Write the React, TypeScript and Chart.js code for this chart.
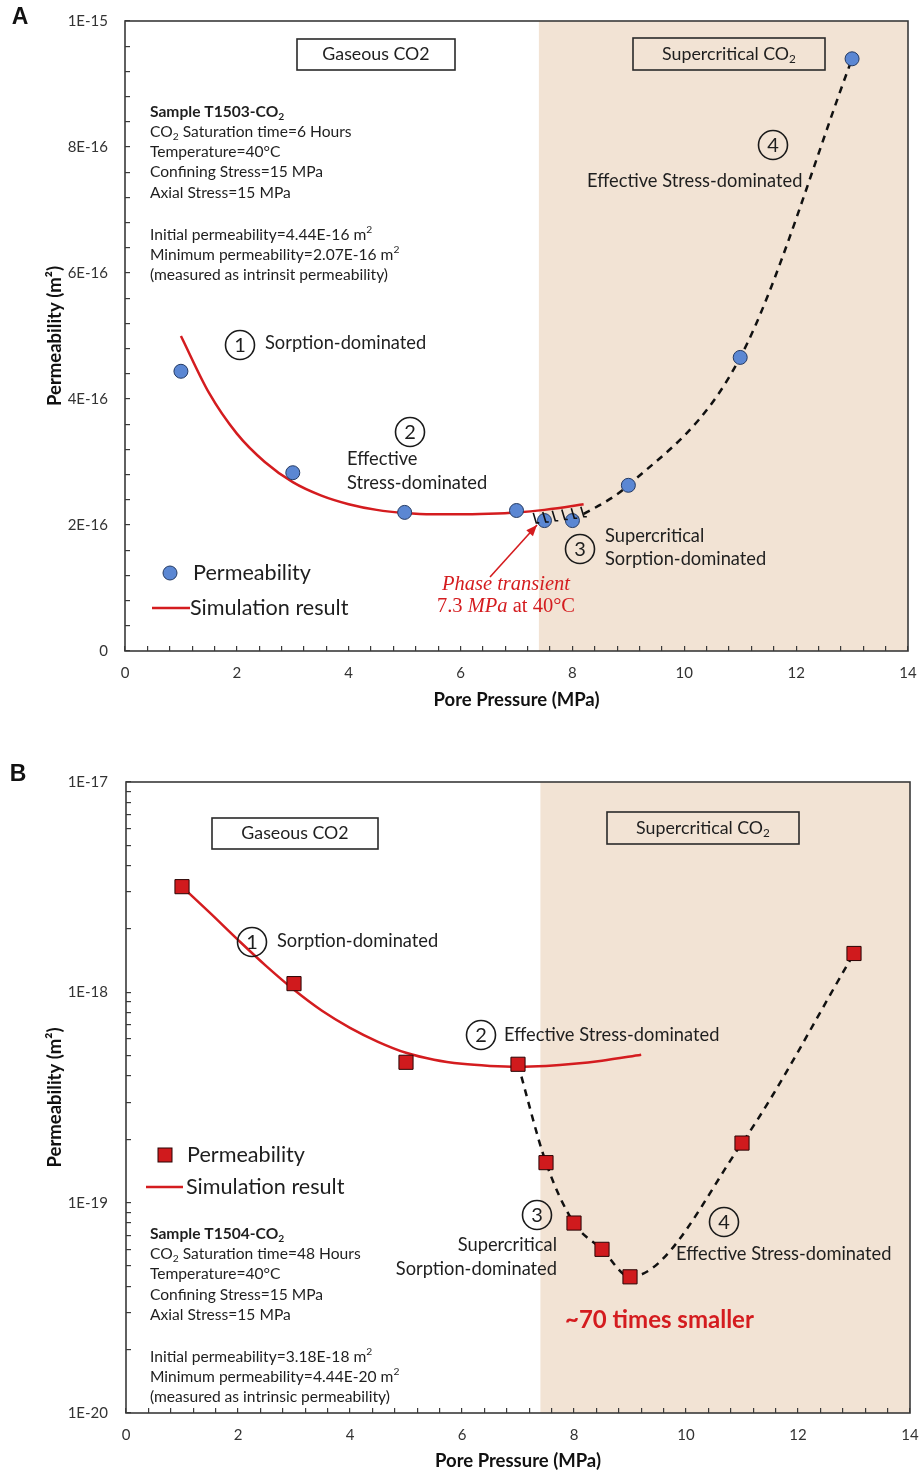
import React, { useEffect, useRef } from 'react';
import { Chart, registerables } from 'chart.js';

Chart.register(...registerables);

// ---------------- Panel A data (Sample T1503-CO2) ----------------
const pressureA = [1, 3, 5, 7, 7.5, 8, 9, 11, 13];
const permA = [4.44e-16, 2.83e-16, 2.2e-16, 2.23e-16, 2.07e-16, 2.07e-16, 2.63e-16, 4.66e-16, 9.4e-16];
const simPressureA = [1, 1.5, 2, 2.5, 3, 3.5, 4, 4.5, 5, 5.5, 6, 6.5, 7, 7.5, 8, 8.2];
const simPermA = [5.0e-16, 4.1e-16, 3.45e-16, 3.0e-16, 2.68e-16, 2.47e-16, 2.33e-16, 2.24e-16, 2.19e-16, 2.17e-16, 2.17e-16, 2.18e-16, 2.2e-16, 2.24e-16, 2.3e-16, 2.33e-16];
const trendPressureA = [8, 9, 11, 13];
const trendPermA = [2.07e-16, 2.63e-16, 4.66e-16, 9.4e-16];
const yTickLabelsA = ['0', '2E-16', '4E-16', '6E-16', '8E-16', '1E-15'];

// ---------------- Panel B data (Sample T1504-CO2) ----------------
const pressureB = [1, 3, 5, 7, 7.5, 8, 8.5, 9, 11, 13];
const permB = [3.18e-18, 1.1e-18, 4.65e-19, 4.55e-19, 1.55e-19, 8.0e-20, 6.0e-20, 4.44e-20, 1.92e-19, 1.53e-18];
const simPressureB = [1, 1.5, 2, 2.5, 3, 3.5, 4, 4.5, 5, 5.5, 6, 6.5, 7, 7.5, 8, 8.5, 9.2];
const simPermB = [3.18e-18, 2.385e-18, 1.776e-18, 1.336e-18, 1.028e-18, 8.17e-19, 6.78e-19, 5.82e-19, 5.16e-19, 4.78e-19, 4.57e-19, 4.47e-19, 4.43e-19, 4.47e-19, 4.57e-19, 4.73e-19, 5.05e-19];
const trendPressureB = [7, 7.5, 8, 8.5, 9, 11, 13];
const trendPermB = [4.55e-19, 1.55e-19, 8.0e-20, 6.0e-20, 4.44e-20, 1.92e-19, 1.53e-18];
const yTickLabelsB = ['1E-20', '1E-19', '1E-18', '1E-17'];

// ---------------- shared ----------------
const xTickLabels = ['0', '2', '4', '6', '8', '10', '12', '14'];
const supercriticalFrom = 7.4; // MPa, phase boundary
const hatchPressuresA = [7.3, 7.47, 7.64, 7.81, 7.98, 8.15];

const FONT = "Lato, 'Open Sans', 'DejaVu Sans', sans-serif";
const SERIF = "'Liberation Serif', 'DejaVu Serif', serif";
const AXIS = '#3a3a3a';
const TXT = '#1e1e1e';
const SHADE = '#f2e3d4';
const RED = '#d41c1f';
const BLUE = '#5b87d3';
const SQUARE = '#d01a1d';

const INFO = 15.6;
const ANN = 18.3;
const LEG = 21.6;

type Seg = { t: string; mode: 'n' | 'sub' | 'sup'; it?: boolean };
function parseRich(s: string): Seg[] {
  const out: Seg[] = [];
  const re = /([_^])\{([^}]*)\}|\*([^*]*)\*/g;
  let last = 0;
  let m: RegExpExecArray | null;
  while ((m = re.exec(s))) {
    if (m.index > last) out.push({ t: s.slice(last, m.index), mode: 'n' });
    if (m[1]) out.push({ t: m[2], mode: m[1] === '_' ? 'sub' : 'sup' });
    else out.push({ t: m[3], mode: 'n', it: true });
    last = re.lastIndex;
  }
  if (last < s.length) out.push({ t: s.slice(last), mode: 'n' });
  return out;
}

type TOpt = { size: number; bold?: boolean; italic?: boolean; color?: string; align?: 'left' | 'center' | 'right'; family?: string };
function drawText(ctx: CanvasRenderingContext2D, s: string, x: number, y: number, o: TOpt) {
  const segs = parseRich(s);
  const fam = o.family || FONT;
  const fontFor = (sg: Seg) => {
    const sz = sg.mode === 'n' ? o.size : o.size * 0.66;
    const it = o.italic || sg.it;
    return `${it ? 'italic ' : ''}${o.bold ? 'bold ' : ''}${sz}px ${fam}`;
  };
  let w = 0;
  const widths: number[] = [];
  for (const sg of segs) {
    ctx.font = fontFor(sg);
    const ww = ctx.measureText(sg.t).width;
    widths.push(ww);
    w += ww;
  }
  let cx = o.align === 'center' ? x - w / 2 : o.align === 'right' ? x - w : x;
  ctx.save();
  ctx.textBaseline = 'middle';
  ctx.textAlign = 'left';
  ctx.fillStyle = o.color || TXT;
  segs.forEach((sg, i) => {
    ctx.font = fontFor(sg);
    const dy = sg.mode === 'sub' ? o.size * 0.3 : sg.mode === 'sup' ? -o.size * 0.32 : 0;
    ctx.fillText(sg.t, cx, y + dy);
    cx += widths[i];
  });
  ctx.restore();
}

function circled(ctx: CanvasRenderingContext2D, n: string, x: number, y: number) {
  ctx.save();
  ctx.beginPath();
  ctx.arc(x, y, 14.5, 0, Math.PI * 2);
  ctx.lineWidth = 1.6;
  ctx.strokeStyle = '#1a1a1a';
  ctx.stroke();
  ctx.restore();
  drawText(ctx, n, x, y + 1, { size: 20, align: 'center' });
}

function box(ctx: CanvasRenderingContext2D, x: number, y: number, w: number, h: number, label: string) {
  ctx.save();
  ctx.lineWidth = 1.6;
  ctx.strokeStyle = '#2a2a2a';
  ctx.strokeRect(x, y, w, h);
  ctx.restore();
  drawText(ctx, label, x + w / 2, y + h / 2, { size: 17.8, align: 'center' });
}

function shade(chart: any) {
  const { ctx, chartArea: a, scales } = chart;
  const x0 = scales.x.getPixelForValue(supercriticalFrom);
  ctx.save();
  ctx.fillStyle = SHADE;
  ctx.fillRect(x0, a.top, a.right - x0, a.bottom - a.top);
  ctx.restore();
}

function frame(chart: any) {
  const { ctx, chartArea: a } = chart;
  ctx.save();
  ctx.strokeStyle = AXIS;
  ctx.lineWidth = 1.6;
  ctx.strokeRect(a.left, a.top, a.right - a.left, a.bottom - a.top);
  ctx.restore();
}

function infoBlock(ctx: CanvasRenderingContext2D, lines: string[], x: number, ys: number[]) {
  lines.forEach((l, i) => {
    if (!l) return;
    drawText(ctx, l, x, ys[i], { size: INFO, bold: i === 0 });
  });
}

function xScale(xAxisHeight: number, labelPad: number, titlePad: number) {
  return {
    type: 'linear',
    min: 0,
    max: 14,
    afterBuildTicks: (s: any) => {
      s.ticks = Array.from({ length: 36 }, (_, i) => ({ value: (i * 2) / 5 }));
    },
    afterFit: (s: any) => {
      s.height = xAxisHeight;
      s.paddingLeft = 0;
      s.paddingRight = 0;
    },
    grid: { display: true, drawOnChartArea: false, drawTicks: true, tickLength: -5, color: AXIS, lineWidth: 1.2 },
    border: { display: false },
    ticks: {
      autoSkip: false,
      maxRotation: 0,
      padding: labelPad,
      color: '#333',
      font: { family: FONT, size: 15 },
      callback: (_v: any, i: number) => (i % 5 === 0 ? xTickLabels[i / 5] : ''),
    },
    title: {
      display: true,
      text: 'Pore Pressure (MPa)',
      color: '#111',
      font: { family: FONT, size: 18.5, weight: 'bold' },
      padding: { top: 0, bottom: titlePad },
    },
  };
}

function yTitle() {
  return {
    display: true,
    text: 'Permeability (m²)',
    color: '#111',
    font: { family: FONT, size: 18.5, weight: 'bold' },
    padding: { top: 44, bottom: 0 },
  };
}

const pts = (xs: number[], ys: number[]) => xs.map((x, i) => ({ x, y: ys[i] }));

export default function App() {
  const refA = useRef<HTMLCanvasElement>(null);
  const refB = useRef<HTMLCanvasElement>(null);

  useEffect(() => {
    // ---------------- Chart A ----------------
    const pluginA = {
      id: 'panelA',
      beforeDraw(chart: any) {
        shade(chart);
      },
      afterDatasetsDraw(chart: any) {
        const { ctx, scales } = chart;
        // hatch marks under the simulation curve (phase transient)
        ctx.save();
        ctx.strokeStyle = '#111';
        ctx.lineWidth = 1.6;
        hatchPressuresA.forEach((p) => {
          let v = simPermA[simPermA.length - 1];
          for (let i = 0; i < simPressureA.length - 1; i++) {
            if (p >= simPressureA[i] && p <= simPressureA[i + 1]) {
              const t = (p - simPressureA[i]) / (simPressureA[i + 1] - simPressureA[i]);
              v = simPermA[i] + t * (simPermA[i + 1] - simPermA[i]);
            }
          }
          const px = scales.x.getPixelForValue(p);
          const py = scales.y.getPixelForValue(v);
          ctx.beginPath();
          ctx.moveTo(px, py + 2);
          ctx.lineTo(px + 3, py + 12);
          ctx.lineTo(px + 6, py + 12);
          ctx.stroke();
        });
        ctx.restore();
        // arrow to phase transient
        const tx = 490, ty = 577, hx = 537, hy = 525;
        ctx.save();
        ctx.strokeStyle = RED;
        ctx.fillStyle = RED;
        ctx.lineWidth = 1.6;
        ctx.beginPath();
        ctx.moveTo(tx, ty);
        ctx.lineTo(hx, hy);
        ctx.stroke();
        const ang = Math.atan2(hy - ty, hx - tx);
        ctx.beginPath();
        ctx.moveTo(hx, hy);
        ctx.lineTo(hx - 11 * Math.cos(ang) + 4.5 * Math.sin(ang), hy - 11 * Math.sin(ang) - 4.5 * Math.cos(ang));
        ctx.lineTo(hx - 11 * Math.cos(ang) - 4.5 * Math.sin(ang), hy - 11 * Math.sin(ang) + 4.5 * Math.cos(ang));
        ctx.closePath();
        ctx.fill();
        ctx.restore();
      },
      afterDraw(chart: any) {
        const ctx = chart.ctx as CanvasRenderingContext2D;
        frame(chart);
        drawText(ctx, 'A', 20, 18, { size: 23, bold: true, family: "'Liberation Sans', Arial, sans-serif", align: 'center', color: '#111' });
        box(ctx, 297, 39, 158, 31, 'Gaseous CO2');
        box(ctx, 633, 38, 192, 32, 'Supercritical CO_{2}');
        infoBlock(
          ctx,
          [
            'Sample T1503-CO_{2}',
            'CO_{2} Saturation time=6 Hours',
            'Temperature=40°C',
            'Confining Stress=15 MPa',
            'Axial Stress=15 MPa',
            '',
            'Initial permeability=4.44E-16 m^{2}',
            'Minimum permeability=2.07E-16 m^{2}',
            '(measured as intrinsit permeability)',
          ],
          150,
          [112, 132, 152, 172, 193, 214, 235, 255, 275]
        );
        circled(ctx, '1', 240, 345);
        drawText(ctx, 'Sorption-dominated', 265, 343, { size: ANN });
        circled(ctx, '2', 410, 432);
        drawText(ctx, 'Effective', 347, 459, { size: ANN });
        drawText(ctx, 'Stress-dominated', 347, 483, { size: ANN });
        circled(ctx, '3', 580, 549);
        drawText(ctx, 'Supercritical', 605, 536, { size: ANN });
        drawText(ctx, 'Sorption-dominated', 605, 559, { size: ANN });
        circled(ctx, '4', 773, 145);
        drawText(ctx, 'Effective Stress-dominated', 587, 181, { size: ANN });
        drawText(ctx, 'Phase transient', 506, 585, { size: 20.5, italic: true, family: SERIF, color: RED, align: 'center' });
        drawText(ctx, '7.3 *MPa* at 40°C', 506, 607, { size: 20.5, family: SERIF, color: RED, align: 'center' });
        // legend
        ctx.save();
        ctx.beginPath();
        ctx.arc(170, 573, 7, 0, Math.PI * 2);
        ctx.fillStyle = BLUE;
        ctx.fill();
        ctx.lineWidth = 1;
        ctx.strokeStyle = '#243a63';
        ctx.stroke();
        ctx.beginPath();
        ctx.moveTo(152, 608);
        ctx.lineTo(190, 608);
        ctx.strokeStyle = RED;
        ctx.lineWidth = 2.5;
        ctx.stroke();
        ctx.restore();
        drawText(ctx, 'Permeability', 193, 573, { size: LEG });
        drawText(ctx, 'Simulation result', 190, 608, { size: LEG });
      },
    };

    const chartA = new Chart(refA.current as HTMLCanvasElement, {
      type: 'scatter',
      data: {
        datasets: [
          {
            label: 'Permeability',
            data: pts(pressureA, permA),
            showLine: false,
            pointStyle: 'circle',
            pointRadius: 7,
            backgroundColor: BLUE,
            borderColor: '#243a63',
            borderWidth: 1,
            order: 0,
          },
          {
            label: 'Simulation result',
            data: pts(simPressureA, simPermA),
            showLine: true,
            pointRadius: 0,
            borderColor: RED,
            borderWidth: 2.5,
            tension: 0.4,
            cubicInterpolationMode: 'monotone',
            order: 1,
          },
          {
            label: 'Trend',
            data: pts(trendPressureA, trendPermA),
            showLine: true,
            pointRadius: 0,
            borderColor: '#111',
            borderWidth: 2.5,
            borderDash: [7, 6],
            cubicInterpolationMode: 'monotone',
            order: 2,
          },
        ],
      } as any,
      options: {
        animation: false,
        responsive: false,
        devicePixelRatio: 1,
        layout: { padding: { left: 0, top: 21, right: 13, bottom: 0 } },
        plugins: { legend: { display: false }, tooltip: { enabled: false } },
        scales: {
          x: xScale(69, 18.2, 9),
          y: {
            type: 'linear',
            min: 0,
            max: 1e-15,
            afterBuildTicks: (s: any) => {
              s.ticks = Array.from({ length: 26 }, (_, i) => ({ value: (i * 4) / 1e17 }));
            },
            afterFit: (s: any) => {
              s.width = 125;
              s.paddingTop = 0;
              s.paddingBottom = 0;
            },
            grid: { display: true, drawOnChartArea: false, drawTicks: true, tickLength: -5, color: AXIS, lineWidth: 1.2 },
            border: { display: false },
            ticks: {
              autoSkip: false,
              padding: 22,
              color: '#333',
              font: { family: FONT, size: 15 },
              callback: (_v: any, i: number) => (i % 5 === 0 ? yTickLabelsA[i / 5] : ''),
            },
            title: yTitle(),
          },
        } as any,
      },
      plugins: [pluginA],
    } as any);

    // ---------------- Chart B ----------------
    const pluginB = {
      id: 'panelB',
      beforeDraw(chart: any) {
        shade(chart);
      },
      afterDraw(chart: any) {
        const ctx = chart.ctx as CanvasRenderingContext2D;
        frame(chart);
        drawText(ctx, 'B', 18, 35, { size: 23, bold: true, family: "'Liberation Sans', Arial, sans-serif", align: 'center', color: '#111' });
        box(ctx, 212, 78, 166, 31, 'Gaseous CO2');
        box(ctx, 607, 72, 192, 32, 'Supercritical CO_{2}');
        circled(ctx, '1', 252, 202);
        drawText(ctx, 'Sorption-dominated', 277, 201, { size: ANN });
        circled(ctx, '2', 481, 295);
        drawText(ctx, 'Effective Stress-dominated', 504, 295, { size: ANN });
        circled(ctx, '3', 537, 475);
        drawText(ctx, 'Supercritical', 557, 505, { size: ANN, align: 'right' });
        drawText(ctx, 'Sorption-dominated', 557, 529, { size: ANN, align: 'right' });
        circled(ctx, '4', 724, 482);
        drawText(ctx, 'Effective Stress-dominated', 676, 514, { size: ANN });
        drawText(ctx, '~70 times smaller', 565, 580, { size: 24, bold: true, color: RED });
        infoBlock(
          ctx,
          [
            'Sample T1504-CO_{2}',
            'CO_{2} Saturation time=48 Hours',
            'Temperature=40°C',
            'Confining Stress=15 MPa',
            'Axial Stress=15 MPa',
            '',
            'Initial permeability=3.18E-18 m^{2}',
            'Minimum permeability=4.44E-20 m^{2}',
            '(measured as intrinsic permeability)',
          ],
          150,
          [494, 514, 534, 555, 575, 596, 617, 637, 657]
        );
        // legend
        ctx.save();
        ctx.fillStyle = SQUARE;
        ctx.fillRect(158, 408, 14, 14);
        ctx.lineWidth = 1;
        ctx.strokeStyle = '#2a0505';
        ctx.strokeRect(158, 408, 14, 14);
        ctx.beginPath();
        ctx.moveTo(146, 447);
        ctx.lineTo(183, 447);
        ctx.strokeStyle = RED;
        ctx.lineWidth = 2.5;
        ctx.stroke();
        ctx.restore();
        drawText(ctx, 'Permeability', 187, 415, { size: LEG });
        drawText(ctx, 'Simulation result', 186, 447, { size: LEG });
      },
    };

    const chartB = new Chart(refB.current as HTMLCanvasElement, {
      type: 'scatter',
      data: {
        datasets: [
          {
            label: 'Permeability',
            data: pts(pressureB, permB),
            showLine: false,
            pointStyle: 'rect',
            pointRadius: 10,
            backgroundColor: SQUARE,
            borderColor: '#2a0505',
            borderWidth: 1,
            order: 0,
          },
          {
            label: 'Simulation result',
            data: pts(simPressureB, simPermB),
            showLine: true,
            pointRadius: 0,
            borderColor: RED,
            borderWidth: 2.5,
            tension: 0.4,
            cubicInterpolationMode: 'monotone',
            order: 1,
          },
          {
            label: 'Trend',
            data: pts(trendPressureB, trendPermB),
            showLine: true,
            pointRadius: 0,
            borderColor: '#111',
            borderWidth: 2.5,
            borderDash: [7, 6],
            cubicInterpolationMode: 'monotone',
            order: 2,
          },
        ],
      } as any,
      options: {
        animation: false,
        responsive: false,
        devicePixelRatio: 1,
        layout: { padding: { left: 0, top: 42, right: 11, bottom: 0 } },
        plugins: { legend: { display: false }, tooltip: { enabled: false } },
        scales: {
          x: xScale(59, 17.9, 0),
          y: {
            type: 'logarithmic',
            min: 1e-20,
            max: 1e-17,
            afterBuildTicks: (s: any) => {
              const t: any[] = [];
              for (let e = 20; e >= 18; e--) for (let k = 1; k <= 9; k++) t.push({ value: k / Math.pow(10, e) });
              t.push({ value: 1e-17 });
              s.ticks = t;
            },
            afterFit: (s: any) => {
              s.width = 126;
              s.paddingTop = 0;
              s.paddingBottom = 0;
            },
            grid: { display: true, drawOnChartArea: false, drawTicks: true, tickLength: -5, color: AXIS, lineWidth: 1.2 },
            border: { display: false },
            ticks: {
              autoSkip: false,
              padding: 23,
              color: '#333',
              font: { family: FONT, size: 15 },
              callback: (_v: any, i: number) => (i % 9 === 0 ? yTickLabelsB[i / 9] : ''),
            },
            title: yTitle(),
          },
        } as any,
      },
      plugins: [pluginB],
    } as any);

    return () => {
      chartA.destroy();
      chartB.destroy();
    };
  }, []);

  return (
    <div style={{ position: 'absolute', left: 0, top: 0, width: 921, height: 1472, overflow: 'hidden', background: '#fff' }}>
      <canvas ref={refA} width={921} height={720} style={{ position: 'absolute', left: 0, top: 0, width: 921, height: 720 }} />
      <canvas ref={refB} width={921} height={732} style={{ position: 'absolute', left: 0, top: 740, width: 921, height: 732 }} />
    </div>
  );
}
